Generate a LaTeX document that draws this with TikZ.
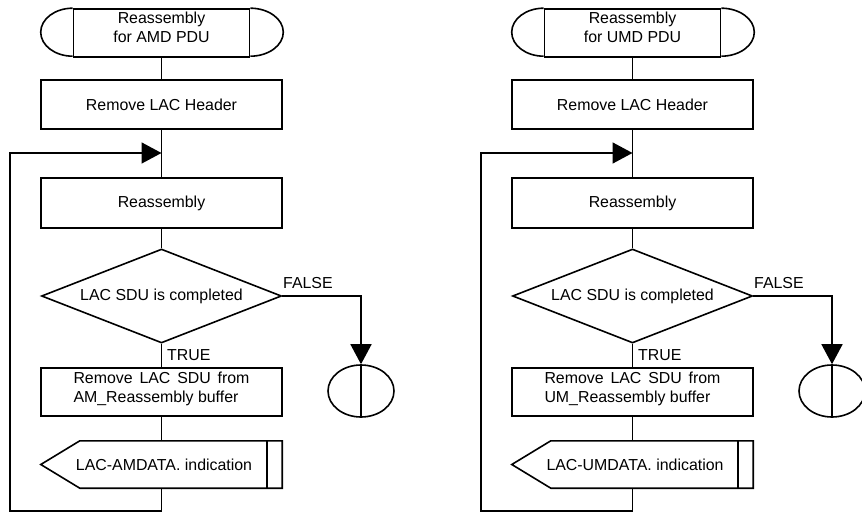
\documentclass[tikz,border=0pt]{standalone}
\usepackage{fontspec}
\setmainfont{Liberation Sans}
\usetikzlibrary{arrows.meta,shapes.geometric}
\tikzset{
 ln/.style={line width=1.6pt},
 box/.style={draw, ln, rectangle, minimum width=241pt, minimum height=49pt, inner sep=0pt, align=center},
 decis/.style={draw, ln, diamond, minimum width=240pt, minimum height=94pt, inner sep=0pt, shape aspect=2.55},
 conn/.style={draw, ln, ellipse, minimum width=66pt, minimum height=52pt, inner sep=0pt},
 lbl/.style={inner sep=0pt, anchor=west},
 arr/.style={ln, -{Triangle[length=20pt,width=21pt]}},
 every node/.style={font=\fontsize{15.9}{19}\selectfont},
}
\newcommand\reachart[4]{%
\begin{scope}[xshift=#1pt, name prefix=#2-]
\node[box, minimum width=176pt, minimum height=48pt] (start) at (161.5,33) {\raisebox{4pt}[\height][\depth]{\begin{tabular}{@{}c@{}}Reassembly\\[0pt]for #3 PDU\end{tabular}}};
\draw[ln] (start.north west) arc[start angle=90, end angle=270, x radius=32pt, y radius=24pt];
\draw[ln] (start.north east) arc[start angle=90, end angle=-90, x radius=33pt, y radius=24pt];
\node[box] (hdr) at (161.5,104.5) {Remove LAC Header};
\node[box, minimum height=50pt] (reas) at (161.5,203) {Reassembly};
\node[decis] (dec) at (161.5,296) {LAC SDU is completed};
\node[box, minimum height=48pt] (sdu) at (161.5,392) {\raisebox{3pt}[\height][\depth]{\parbox{176pt}{\makebox[176pt][s]{Remove LAC SDU from}\\#4\_Reassembly buffer}}};
\node[inner sep=0pt, minimum width=241pt, minimum height=47pt] (sig) at (161.5,464.5) {\hspace*{5pt}LAC-#4DATA. indication};
\draw[ln] (sig.west) -- ([xshift=39pt]sig.north west) -- (sig.north east) -- (sig.south east) -- ([xshift=39pt]sig.south west) -- cycle;
\draw[ln] ([xshift=-15pt]sig.north east) -- ([xshift=-15pt]sig.south east);
\node[conn] (end) at (361,391) {};
\draw[ln] (end.north) -- (end.south);
\coordinate (join) at (161.5,153);
\coordinate (lb) at (10,511);
\draw[ln] (start) -- (hdr);
\draw[ln] (hdr) -- (reas);
\draw[ln] (reas) -- (dec);
\draw[ln] (dec) -- (sdu);
\draw[ln] (sdu) -- (sig);
\draw[arr] (sig.south) |- (lb) |- (join);
\draw[arr] (dec.east) -| (end.north);
\node[lbl] (ltrue) at (167,355) {TRUE};
\node[lbl] (lfalse) at (283,283) {FALSE};
\end{scope}}
\begin{document}
\begin{tikzpicture}[x=1pt,y=-1pt]
\clip (0,0) rectangle (862,513);
\fill[white] (0,0) rectangle (862,513);
\reachart{0}{A}{AMD}{AM}
\reachart{471}{B}{UMD}{UM}
\end{tikzpicture}
\end{document}
